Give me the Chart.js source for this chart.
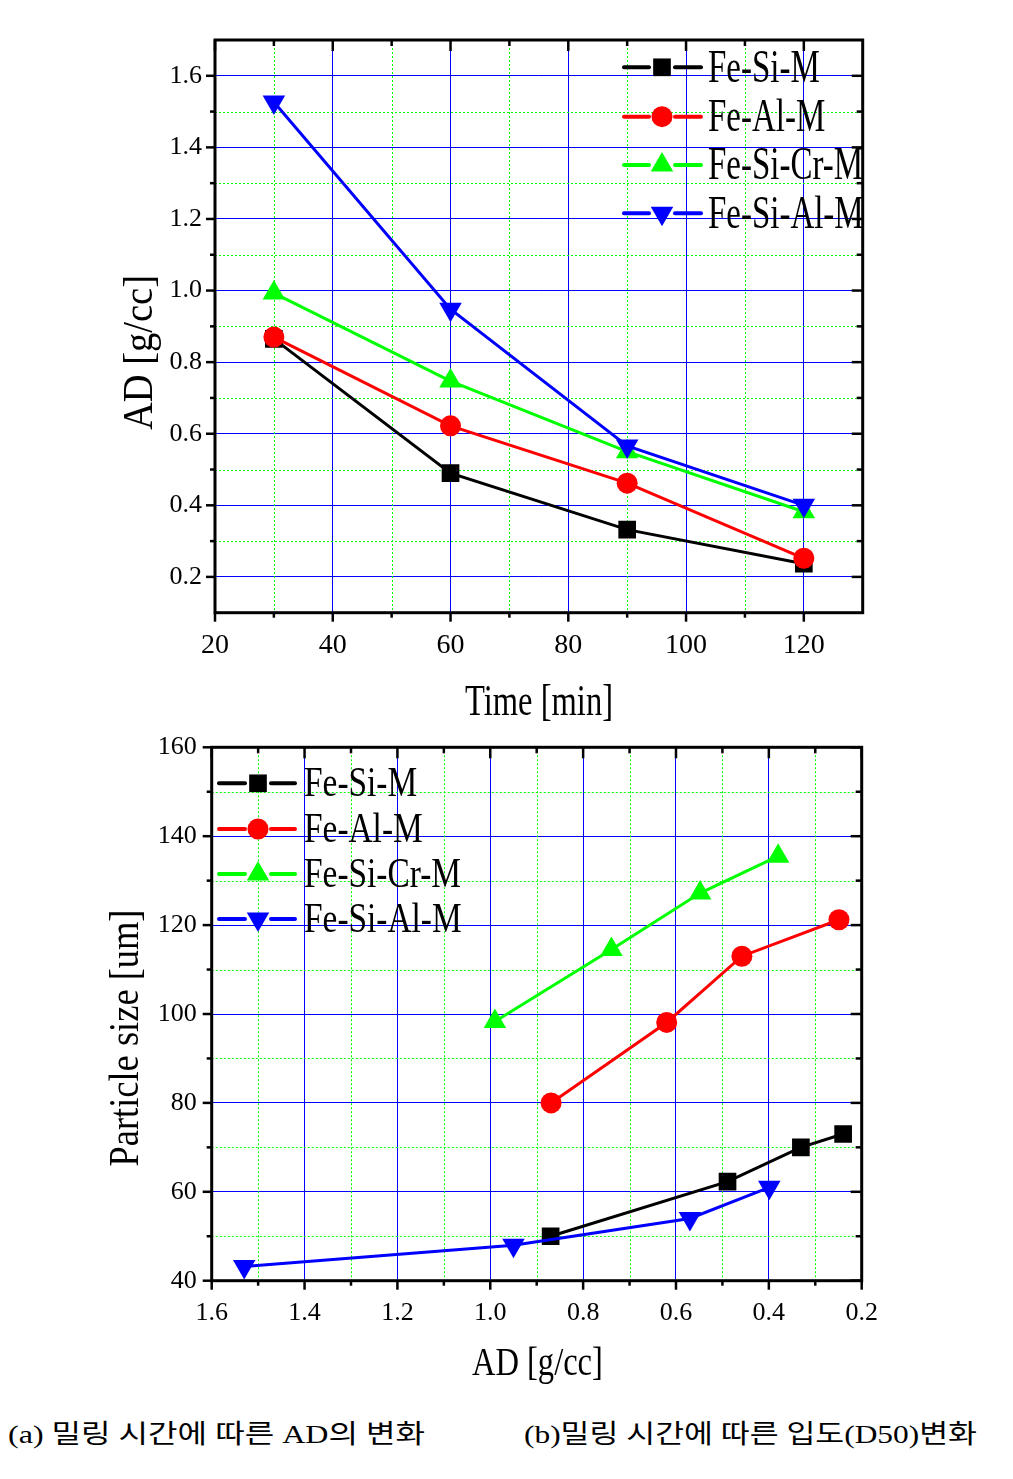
<!DOCTYPE html>
<html>
<head>
<meta charset="utf-8">
<script src="https://cdn.jsdelivr.net/npm/chart.js@4.4.0/dist/chart.umd.min.js"></script>
<style>
html,body{margin:0;padding:0;background:#fff;width:1013px;height:1479px;overflow:hidden;}
canvas{position:absolute;left:0;}
#c1{top:0;}
#c2{top:700px;}
.cap{position:absolute;font-family:"Liberation Serif","Noto Sans CJK KR",serif;font-size:26px;line-height:34px;white-space:pre;transform-origin:0 0;color:#000;}
</style>
</head>
<body>
<canvas id="c1" width="1013" height="735"></canvas>
<canvas id="c2" width="1013" height="700"></canvas>
<div id="capA" class="cap" style="left:8px;top:1418px;">(a) 밀링 시간에 따른 AD의 변화</div>
<div id="capB" class="cap" style="left:524px;top:1418px;">(b)밀링 시간에 따른 입도(D50)변화</div>
<script>
// ---------- data ----------
const seriesNames = ['Fe-Si-M', 'Fe-Al-M', 'Fe-Si-Cr-M', 'Fe-Si-Al-M'];

// (a) AD vs milling time
const millingTime = [30, 60, 90, 120];
const adFeSiM   = [0.865, 0.490, 0.332, 0.237];
const adFeAlM   = [0.870, 0.622, 0.462, 0.252];
const adFeSiCrM = [0.993, 0.747, 0.550, 0.382];
const adFeSiAlM = [1.527, 0.948, 0.566, 0.400];

// (b) particle size vs AD
const bAdFeSiM     = [0.870, 0.489, 0.331, 0.240];
const sizeFeSiM    = [50.0, 62.3, 70.0, 73.0];
const bAdFeAlM     = [0.869, 0.620, 0.458, 0.249];
const sizeFeAlM    = [80.0, 98.1, 113.0, 121.2];
const bAdFeSiCrM   = [0.990, 0.739, 0.548, 0.380];
const sizeFeSiCrM  = [98.3, 114.5, 127.2, 135.5];
const bAdFeSiAlM   = [1.530, 0.950, 0.570, 0.399];
const sizeFeSiAlM  = [43.2, 48.0, 54.0, 61.0];

// tick values
const timeTicks   = [20, 40, 60, 80, 100, 120];
const timeMinor   = [30, 50, 70, 90, 110];
const adTicksA    = [0.2, 0.4, 0.6, 0.8, 1.0, 1.2, 1.4, 1.6];
const adMinorA    = [0.3, 0.5, 0.7, 0.9, 1.1, 1.3, 1.5];
const adTicksB    = [0.2, 0.4, 0.6, 0.8, 1.0, 1.2, 1.4, 1.6];
const adMinorB    = [0.3, 0.5, 0.7, 0.9, 1.1, 1.3, 1.5];
const sizeTicks   = [40, 60, 80, 100, 120, 140, 160];
const sizeMinor   = [50, 70, 90, 110, 130, 150];

// ---------- styles ----------
const FONT = 'Liberation Serif';
Chart.defaults.font.family = FONT;
const seriesStyle = [
  {color: '#000000', pointStyle: 'rect',     radius: 12.5, rotation: 0,   order: 4},
  {color: '#ff0000', pointStyle: 'circle',   radius: 10.5, rotation: 0,   order: 3},
  {color: '#00ff00', pointStyle: 'triangle', radius: 13,   rotation: 0,   order: 2},
  {color: '#0000ff', pointStyle: 'triangle', radius: 13,   rotation: 180, order: 1}
];

function makeDatasets(xsList, ysList) {
  return seriesNames.map((name, i) => {
    const st = seriesStyle[i];
    return {
      label: name,
      data: xsList[i].map((x, k) => ({x: x, y: ysList[i][k]})),
      borderColor: st.color,
      backgroundColor: st.color,
      borderWidth: 3,
      pointStyle: st.pointStyle,
      pointRadius: st.radius,
      pointRotation: st.rotation,
      pointBorderWidth: 0,
      pointBackgroundColor: st.color,
      order: st.order,
      tension: 0
    };
  });
}

function drawMarker(ctx, style, x, y, r, rot, color) {
  ctx.save();
  ctx.fillStyle = color;
  ctx.beginPath();
  if (style === 'rect') {
    const s = r * Math.SQRT1_2;
    ctx.rect(x - s, y - s, 2 * s, 2 * s);
  } else if (style === 'circle') {
    ctx.arc(x, y, r, 0, Math.PI * 2);
  } else {
    for (let k = 0; k < 3; k++) {
      const a = rot * Math.PI / 180 + k * 2 * Math.PI / 3;
      const px = x + Math.sin(a) * r, py = y - Math.cos(a) * r;
      if (k) ctx.lineTo(px, py); else ctx.moveTo(px, py);
    }
    ctx.closePath();
  }
  ctx.fill();
  ctx.restore();
}

function fitText(ctx, text, x, y, size, width, rotate) {
  ctx.save();
  ctx.font = size + 'px "' + FONT + '"';
  const w = ctx.measureText(text).width;
  const sx = width / w;
  ctx.translate(x, y);
  if (rotate) ctx.rotate(-Math.PI / 2);
  ctx.scale(sx, 1);
  ctx.fillStyle = '#000';
  ctx.textAlign = 'center';
  ctx.textBaseline = 'alphabetic';
  ctx.fillText(text, 0, 0);
  ctx.restore();
}

const framePlugin = {
  id: 'frame',
  beforeDatasetsDraw(chart, args, o) {
    const {ctx, chartArea: a} = chart;
    const x = chart.scales.x, y = chart.scales.y;
    ctx.save();
    ctx.strokeStyle = '#00ff00';
    ctx.lineWidth = 1;
    ctx.setLineDash([2, 2]);
    o.xMinor.forEach(v => {
      const p = Math.round(x.getPixelForValue(v)) + 0.5;
      ctx.beginPath(); ctx.moveTo(p, a.top); ctx.lineTo(p, a.bottom); ctx.stroke();
    });
    o.yMinor.forEach(v => {
      const p = Math.round(y.getPixelForValue(v)) + 0.5;
      ctx.beginPath(); ctx.moveTo(a.left, p); ctx.lineTo(a.right, p); ctx.stroke();
    });
    ctx.restore();
  },
  afterDatasetsDraw(chart, args, o) {
    const {ctx, chartArea: a} = chart;
    const x = chart.scales.x, y = chart.scales.y;
    ctx.save();
    ctx.strokeStyle = '#000';
    ctx.lineWidth = 2.5;
    ctx.setLineDash([]);
    const tick = (x1, y1, x2, y2) => { ctx.beginPath(); ctx.moveTo(x1, y1); ctx.lineTo(x2, y2); ctx.stroke(); };
    o.xMajor.forEach(v => {
      const p = x.getPixelForValue(v);
      tick(p, a.bottom, p, a.bottom + 9);
      tick(p, a.top, p, a.top + 11);
    });
    o.xMinor.forEach(v => {
      const p = x.getPixelForValue(v);
      tick(p, a.bottom, p, a.bottom + 5);
      tick(p, a.top, p, a.top + 6);
    });
    o.yMajor.forEach(v => {
      const p = y.getPixelForValue(v);
      tick(a.left, p, a.left - 9, p);
      tick(a.right, p, a.right - 11, p);
    });
    o.yMinor.forEach(v => {
      const p = y.getPixelForValue(v);
      tick(a.left, p, a.left - 5, p);
      tick(a.right, p, a.right - 6, p);
    });
    ctx.lineWidth = 3;
    ctx.strokeRect(a.left, a.top, a.right - a.left, a.bottom - a.top);
    ctx.restore();

    // axis titles
    fitText(ctx, o.xTitle.text, o.xTitle.x, o.xTitle.y, o.xTitle.size, o.xTitle.width, false);
    fitText(ctx, o.yTitle.text, o.yTitle.x, o.yTitle.y, o.yTitle.size, o.yTitle.width, true);

    // legend
    const L = o.legend;
    ctx.save();
    ctx.font = L.size + 'px "' + FONT + '"';
    const sx = L.refWidth / ctx.measureText(seriesNames[2]).width;
    seriesNames.forEach((name, i) => {
      const st = seriesStyle[i];
      const yy = L.ys[i];
      ctx.strokeStyle = st.color;
      ctx.lineWidth = 4;
      ctx.lineCap = 'round';
      tick(L.x0, yy, L.m - L.gap, yy);
      tick(L.m + L.gap, yy, L.x1, yy);
      drawMarker(ctx, st.pointStyle, L.m, yy, st.radius, st.rotation, st.color);
      ctx.save();
      ctx.translate(L.tx, yy + 0.31 * L.size);
      ctx.scale(sx, 1);
      ctx.fillStyle = '#000';
      ctx.textAlign = 'left';
      ctx.textBaseline = 'alphabetic';
      ctx.fillText(name, 0, 0);
      ctx.restore();
    });
    ctx.restore();
  }
};

function axisTicks(values) {
  return s => { s.ticks = values.map(v => ({value: v})); };
}

// ---------- chart (a) ----------
new Chart(document.getElementById('c1'), {
  type: 'line',
  data: {datasets: makeDatasets(
    [millingTime, millingTime, millingTime, millingTime],
    [adFeSiM, adFeAlM, adFeSiCrM, adFeSiAlM])},
  options: {
    responsive: false, animation: false, events: [],
    layout: {padding: {left: 0, right: 150.3, top: 40, bottom: 0}},
    plugins: {
      legend: {display: false}, tooltip: {enabled: false},
      frame: {
        xMajor: timeTicks, xMinor: timeMinor, yMajor: adTicksA, yMinor: adMinorA,
        xTitle: {text: 'Time [min]', x: 539, y: 715, size: 45, width: 148},
        yTitle: {text: 'AD [g/cc]', x: 151.7, y: 352.5, size: 43, width: 155},
        legend: {x0: 624, x1: 701, m: 662, gap: 13, tx: 708, ys: [67.3, 116.7, 165, 213.3], size: 46, refWidth: 155}
      }
    },
    scales: {
      x: {
        type: 'linear', min: 20, max: 130,
        afterBuildTicks: axisTicks(timeTicks),
        afterFit: s => { s.height = 122.3; },
        grid: {color: '#0000ff', lineWidth: 1, drawTicks: false},
        border: {display: false},
        ticks: {color: '#000', font: {family: FONT, size: 28}, padding: 16, maxRotation: 0, autoSkip: false,
                callback: v => String(v)}
      },
      y: {
        type: 'linear', min: 0.1, max: 1.7,
        afterBuildTicks: axisTicks(adTicksA),
        afterFit: s => { s.width = 215; },
        grid: {color: '#0000ff', lineWidth: 1, drawTicks: false},
        border: {display: false},
        ticks: {color: '#000', font: {family: FONT, size: 26}, padding: 13, autoSkip: false,
                callback: v => Number(v).toFixed(1)}
      }
    }
  },
  plugins: [framePlugin]
});

// ---------- chart (b) ----------
new Chart(document.getElementById('c2'), {
  type: 'line',
  data: {datasets: makeDatasets(
    [bAdFeSiM, bAdFeAlM, bAdFeSiCrM, bAdFeSiAlM],
    [sizeFeSiM, sizeFeAlM, sizeFeSiCrM, sizeFeSiAlM])},
  options: {
    responsive: false, animation: false, events: [],
    layout: {padding: {left: 0, right: 151.3, top: 47.3, bottom: 0}},
    plugins: {
      legend: {display: false}, tooltip: {enabled: false},
      frame: {
        xMajor: adTicksB, xMinor: adMinorB, yMajor: sizeTicks, yMinor: sizeMinor,
        xTitle: {text: 'AD [g/cc]', x: 537.4, y: 675, size: 40, width: 131},
        yTitle: {text: 'Particle size [um]', x: 138.3, y: 338, size: 43, width: 257},
        legend: {x0: 219, x1: 295, m: 258, gap: 13, tx: 304, ys: [83.3, 129, 174, 219], size: 42, refWidth: 157}
      }
    },
    scales: {
      x: {
        type: 'linear', min: 0.2, max: 1.6, reverse: true,
        afterBuildTicks: axisTicks(adTicksB),
        afterFit: s => { s.height = 119.3; },
        grid: {color: '#0000ff', lineWidth: 1, drawTicks: false},
        border: {display: false},
        ticks: {color: '#000', font: {family: FONT, size: 26}, padding: 17, maxRotation: 0, autoSkip: false,
                callback: v => Number(v).toFixed(1)}
      },
      y: {
        type: 'linear', min: 40, max: 160,
        afterBuildTicks: axisTicks(sizeTicks),
        afterFit: s => { s.width = 211.7; },
        grid: {color: '#0000ff', lineWidth: 1, drawTicks: false},
        border: {display: false},
        ticks: {color: '#000', font: {family: FONT, size: 26}, padding: 15, autoSkip: false,
                callback: v => String(v)}
      }
    }
  },
  plugins: [framePlugin]
});

// captions: fit to measured widths in the figure
function fitCaption(id, width) {
  const el = document.getElementById(id);
  const w = el.getBoundingClientRect().width;
  el.style.transform = 'scaleX(' + (width / w) + ')';
}
fitCaption('capA', 417);
fitCaption('capB', 453);
</script>
</body>
</html>
